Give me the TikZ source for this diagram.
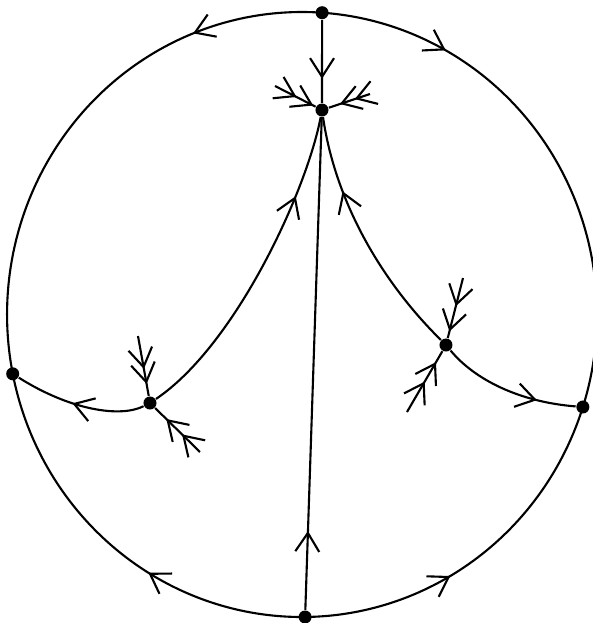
\documentclass[tikz,border=0pt]{standalone}
\usepackage{tikz}
\usetikzlibrary{arrows.meta, decorations.markings}
\tikzset{
    fixpt/.style={circle, fill=black, draw=none, inner sep=0pt, minimum size=0.13cm},
    flow/.style={draw=black, line width=0.6pt, line join=round},
    >={Straight Barb[length=5.3pt, width=6.8pt]},
    midarrow/.style={postaction={decorate}, decoration={markings, mark=at position #1 with {\arrow{>}}}},
    twoarrows/.style 2 args={postaction={decorate}, decoration={markings, mark=at position #1 with {\arrow{>}}, mark=at position #2 with {\arrow{>}}}}
}

\begin{document}
\begin{tikzpicture}[x=0.01cm, y=0.01cm]

                \useasboundingbox (0, 0) rectangle (593, 623);

                % Fixed points
                \node (pt_top) [fixpt] at (322.1, 610.3) {};
                \node (pt_west) [fixpt] at (12.7, 249.2) {};
                \node (pt_bottom) [fixpt] at (305.1, 6.0) {};
                \node (pt_east) [fixpt] at (582.9, 216.0) {};
                \node (pt_center) [fixpt] at (322, 513) {};
                \node (pt_left) [fixpt] at (150, 220) {};
                \node (pt_right) [fixpt] at (446, 278) {};

                % Free ends of the short manifolds
                \coordinate (end_left_up) at (138, 287);
                \coordinate (end_left_down) at (200, 171);
                \coordinate (end_right_up) at (463, 345);
                \coordinate (end_right_down) at (407, 211);
                \coordinate (end_center_w) at (275, 537);
                \coordinate (end_center_e) at (370, 529);

                % Boundary circle
                \draw [flow, midarrow=0.24] (pt_top.center) arc[start angle=86.1, end angle=191.3, x radius=295, y radius=302.5];
                \draw [flow, midarrow=0.24] (pt_top.center) arc[start angle=86.1, end angle=-17.8, x radius=295, y radius=302.5];
                \draw [flow, midarrow=0.40] (pt_bottom.center) arc[start angle=270.6, end angle=191.3, x radius=295, y radius=302.5];
                \draw [flow, midarrow=0.41] (pt_bottom.center) arc[start angle=270.6, end angle=342.2, x radius=295, y radius=302.5];

                % Separatrices
                \draw [flow, midarrow=0.71] (pt_top) -- (pt_center);
                \draw [flow, midarrow=0.16] (pt_bottom) -- (pt_center);
                \draw [flow, midarrow=0.75] (pt_left) .. controls (236, 278) and (307, 433) .. (pt_center);
                \draw [flow, midarrow=0.70] (pt_right) .. controls (380, 343) and (335, 423) .. (pt_center);
                \draw [flow, midarrow=0.55] (pt_left) .. controls (120, 205) and (70, 213) .. (pt_west);
                \draw [flow, midarrow=0.72] (pt_right) .. controls (475, 243) and (520, 221) .. (pt_east);

                % Short incoming manifolds
                \draw [flow, twoarrows={0.55}{0.80}] (end_left_up) -- (pt_left);
                \draw [flow, twoarrows={0.40}{0.75}] (end_left_down) -- (pt_left);
                \draw [flow, twoarrows={0.47}{0.89}] (end_right_up) -- (pt_right);
                \draw [flow, twoarrows={0.50}{0.82}] (end_right_down) -- (pt_right);
                \draw [flow, twoarrows={0.53}{0.94}] (end_center_w) -- (pt_center);
                \draw [flow, twoarrows={0.37}{0.73}] (end_center_e) -- (pt_center);

            \end{tikzpicture}
\end{document}
